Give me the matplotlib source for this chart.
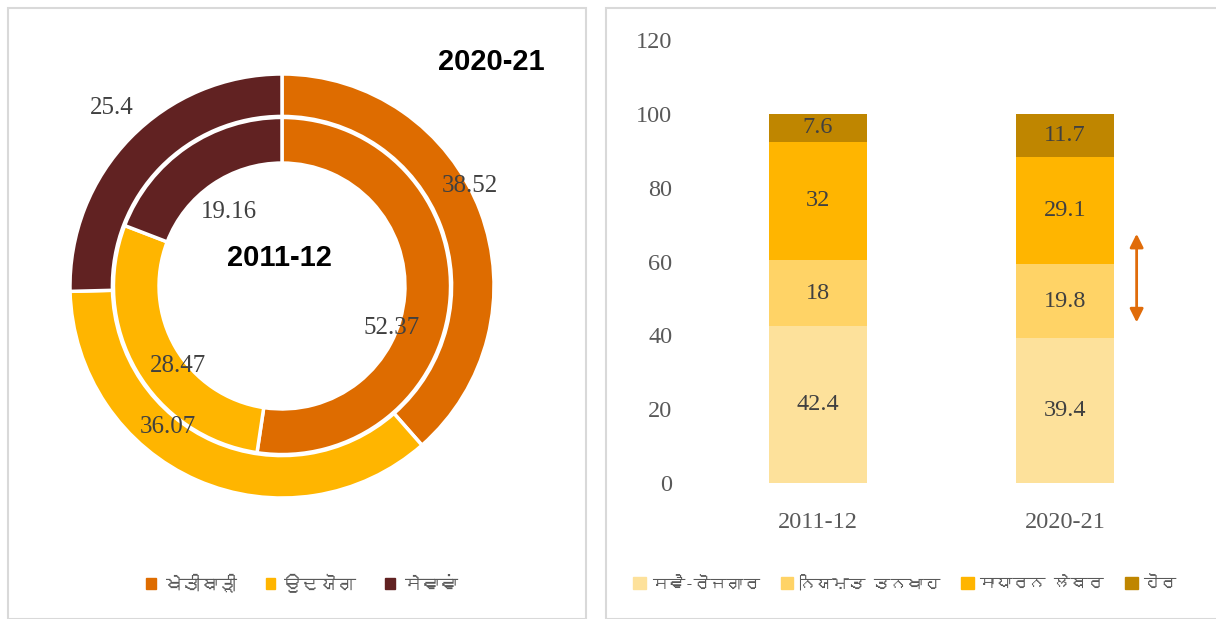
import matplotlib
matplotlib.use("Agg")
import matplotlib.pyplot as plt
from matplotlib import font_manager
from matplotlib.ft2font import FT2Font
from matplotlib.patches import Patch, Rectangle

# find an installed font with Gurmukhi glyphs
guru_font = None
for f in font_manager.fontManager.ttflist:
    try:
        if 0x0A38 in FT2Font(f.fname).get_charmap():
            guru_font = f.name
            break
    except Exception:
        pass
guru_family = [guru_font, "DejaVu Sans"] if guru_font else ["DejaVu Sans"]

# data
sectors = ["ਖੇਤੀਬਾੜੀ", "ਉਦਯੋਗ", "ਸੇਵਾਵਾਂ"]
share_2011 = [52.37, 28.47, 19.16]
share_2020 = [38.52, 36.07, 25.4]
sector_colors = ["#DE6C00", "#FFB500", "#612222"]

years = ["2011-12", "2020-21"]
emp_types = ["ਸਵੈ-ਰੋਜਗਾਰ", "ਨਿਯਮਤ ਤਨਖਾਹ", "ਸਾਧਾਰਨ ਲੇਬਰ", "ਹੋਰ"]
self_emp = [42.4, 39.4]
regular = [18, 19.8]
casual = [32, 29.1]
other = [7.6, 11.7]
emp_colors = ["#FDE19B", "#FFD366", "#FFB500", "#BF8600"]

W, H = 1216, 619
fig = plt.figure(figsize=(W / 100, H / 100), dpi=100)

# panel borders
for x0, x1 in [(8, 586), (606, 1222)]:
    fig.patches.append(Rectangle((x0 / W, 0), (x1 - x0) / W, (H - 8) / H,
                                 transform=fig.transFigure, fill=False,
                                 edgecolor="#D9D9D9", linewidth=1.5))

serif = "Liberation Serif"
label_col = "#404040"

# ---- donut ----
cx, cy, R = 282, 286, 212
ax1 = fig.add_axes([(cx - 1.1 * R) / W, (H - cy - 1.1 * R) / H, 2.2 * R / W, 2.2 * R / H])
wp = dict(edgecolor="white", linewidth=2.5)
ax1.pie(share_2020, radius=1.0, colors=sector_colors, startangle=90, counterclock=False,
        wedgeprops=dict(width=0.2, **wp))
ax1.pie(share_2011, radius=0.795, colors=sector_colors, startangle=90, counterclock=False,
        wedgeprops=dict(width=0.215, **wp))
ax1.set_xlim(-1.1, 1.1)
ax1.set_ylim(-1.1, 1.1)
ax1.set_aspect("equal")
ax1.axis("off")

outer_pos = [(0.887, 0.472), (-0.538, -0.665), (-0.802, 0.840)]
inner_pos = [(0.519, -0.198), (-0.491, -0.377), (-0.25, 0.349)]
for v, (x, y) in zip(share_2020, outer_pos):
    ax1.text(x, y, f"{v:g}", ha="center", va="center", fontsize=18, family=serif, color=label_col)
for v, (x, y) in zip(share_2011, inner_pos):
    ax1.text(x, y, f"{v:g}", ha="center", va="center", fontsize=18, family=serif, color=label_col)
ax1.text(-0.01, 0.132, "2011-12", ha="center", va="center", fontsize=21, fontweight="bold",
         family="Liberation Sans")
ax1.text(0.986, 1.057, "2020-21", ha="center", va="center", fontsize=21, fontweight="bold",
         family="Liberation Sans")

h1 = [Patch(color=c, label=l) for c, l in zip(sector_colors, sectors)]
fig.legend(handles=h1, loc="center", bbox_to_anchor=(302 / W, 1 - 583 / H), ncol=3,
           frameon=False, handlelength=0.55, handleheight=0.55, handletextpad=0.5,
           columnspacing=1.6, prop=dict(family=guru_family, size=13), labelcolor="#595959")

# ---- stacked bars ----
ax2 = fig.add_axes([694.5 / W, (H - 483) / H, 494 / W, 443 / H])
x = range(len(years))
bottom = [0, 0]
for vals, c in zip([self_emp, regular, casual, other], emp_colors):
    bars = ax2.bar(x, vals, width=0.4, bottom=bottom, color=c)
    ax2.bar_label(bars, labels=[f"{v:g}" for v in vals], label_type="center",
                  fontsize=17.5, family=serif, color=label_col)
    bottom = [b + v for b, v in zip(bottom, vals)]

ax2.set_xlim(-0.5, 1.5)
ax2.set_ylim(0, 120)
ax2.set_yticks(range(0, 121, 20))
ax2.set_xticks(list(x))
ax2.set_xticklabels(years)
for s in ax2.spines.values():
    s.set_visible(False)
ax2.tick_params(length=0, labelsize=17.5, labelcolor="#595959")
ax2.tick_params(axis="y", pad=16)
ax2.tick_params(axis="x", pad=21)
for t in ax2.get_xticklabels() + ax2.get_yticklabels():
    t.set_family(serif)

ax2.annotate("", xy=(1.29, 67.5), xytext=(1.29, 43.5),
             arrowprops=dict(arrowstyle="<|-|>", color="#E06C0A", lw=2, mutation_scale=20,
                             shrinkA=0, shrinkB=0))

h2 = [Patch(color=c, label=l) for c, l in zip(emp_colors, emp_types)]
fig.legend(handles=h2, loc="center", bbox_to_anchor=(905 / W, 1 - 583 / H), ncol=4,
           frameon=False, handlelength=0.75, handleheight=0.75, handletextpad=0.35,
           columnspacing=1.25, prop=dict(family=guru_family, size=12), labelcolor="#595959")

fig.savefig("out.png", dpi=100)
